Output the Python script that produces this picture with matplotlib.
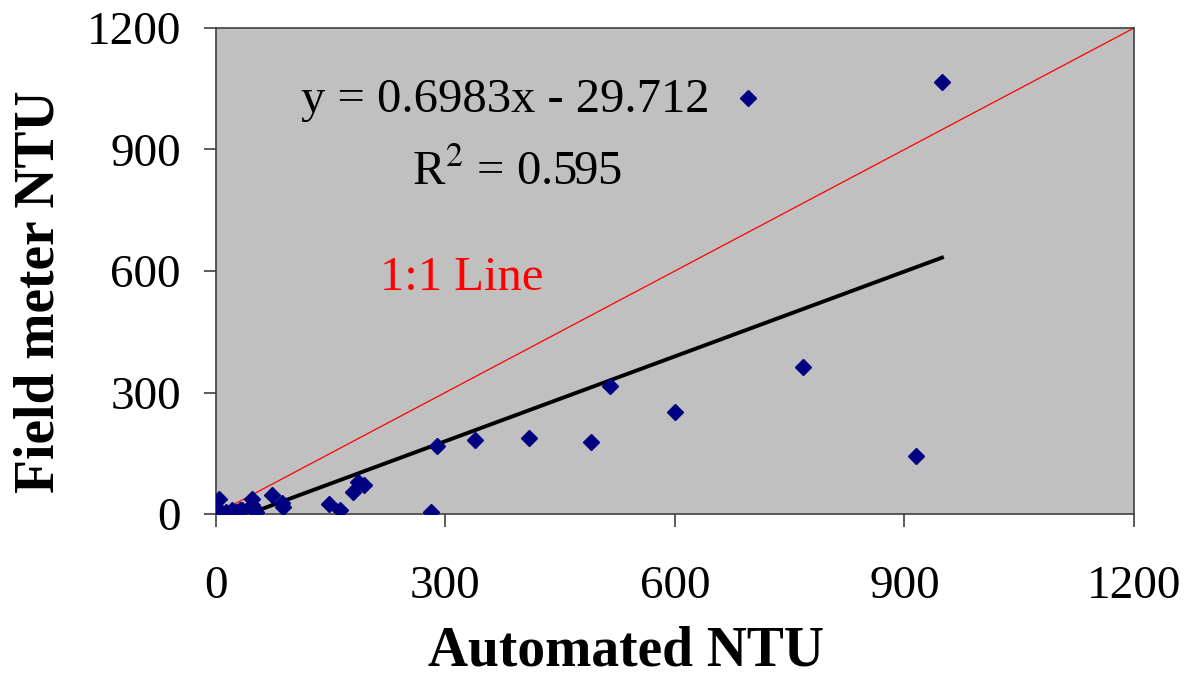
import matplotlib
matplotlib.use('Agg')
import matplotlib.pyplot as plt
import numpy as np

# Automated vs field meter turbidity readings (NTU)
automated = [1, 4, 8, 14, 21, 27, 32, 34, 47, 47, 49, 53, 73, 86, 88,
             148, 162, 179, 186, 194, 281, 289, 339, 410, 491, 515,
             600, 696, 768, 915, 949]
field = [2, 36, 2, 6, 10, 6, 10, 10, 36, 22, 18, 6, 46, 26, 18,
         25, 10, 55, 80, 72, 5, 168, 182, 187, 177, 315,
         251, 1028, 364, 143, 1067]

slope = 0.6983
intercept = -29.712
r_squared = 0.595

ticks = [0, 300, 600, 900, 1200]

SERIF = ['Liberation Serif', 'DejaVu Serif']
PANEL = '#c0c0c0'
NAVY = '#000080'

fig = plt.figure(figsize=(11.95, 6.81), dpi=100)
ax = fig.add_axes([0.1805, 0.2452, 0.7685, 0.7137])
ax.set_facecolor(PANEL)

# 1:1 line
ax.plot([0, 1200], [0, 1200], color='red', linewidth=0.9, zorder=2)

# linear trend line over data range
xs = np.array([min(automated), max(automated)])
ax.plot(xs, slope * xs + intercept, color='black', linewidth=2.8, zorder=3)

ax.plot(automated, field, linestyle='none', marker='D', markersize=8.5,
        color=NAVY, zorder=4)

ax.set_xlim(0, 1200)
ax.set_ylim(0, 1200)
ax.set_xticks(ticks)
ax.set_yticks(ticks)
ax.tick_params(axis='both', direction='out', length=9, width=1.2,
               color='#404040', labelsize=34)
ax.tick_params(axis='x', pad=28)
ax.tick_params(axis='y', pad=16)
for lbl in ax.get_xticklabels() + ax.get_yticklabels():
    lbl.set_family(SERIF)
for spine in ax.spines.values():
    spine.set_color('#404040')
    spine.set_linewidth(1.2)

ax.set_xlabel('Automated NTU', family=SERIF, fontsize=40, fontweight='bold',
              labelpad=13, x=0.447)
ax.set_ylabel('Field meter NTU', family=SERIF, fontsize=40, fontweight='bold',
              labelpad=15, y=0.457)

ax.text(378, 1022, f'y = {slope}x - {abs(intercept)}', family=SERIF,
        fontsize=35, ha='center', va='center')
ax.text(393, 844, f'R$^2$ = {r_squared}', family=SERIF, fontsize=35,
        ha='center', va='center', math_fontfamily='stix')
ax.text(322, 583, '1:1 Line', family=SERIF, fontsize=35, color='red',
        ha='center', va='center')

fig.savefig('out.png', dpi=100)
